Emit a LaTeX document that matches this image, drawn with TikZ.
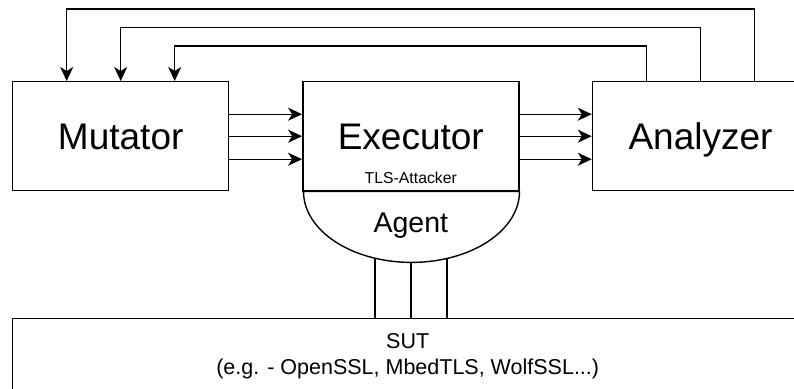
\documentclass[tikz,border=0pt]{standalone}
\usepackage{fontspec}
\setmainfont{Liberation Sans}
\usetikzlibrary{arrows.meta, positioning}

\begin{document}
\begin{tikzpicture}[x=1pt, y=-1pt, line width=1.4pt,
    box/.style={draw, rectangle, minimum width=216pt, minimum height=109pt, inner sep=0pt,
        text height=26.5pt, text depth=0pt, font=\fontsize{37}{44}\selectfont},
    arr/.style={-{Stealth[length=14pt, width=13pt, inset=4pt]}}]
    \useasboundingbox (0,0) rectangle (794,388);
    \clip (0,0) rectangle (794,388);
    \node[box, anchor=north west](mut) at (12,81){Mutator};
    \node[box, right=72.7pt of mut](exe){Executor};
    \node[box, right=72.3pt of exe](ana){Analyzer};
    \node[draw, anchor=north west, minimum width=790pt, minimum height=76pt, align=center,
        font=\fontsize{21.5}{26}\selectfont](sut) at (12,318){SUT\\(e.g. - OpenSSL, MbedTLS, WolfSSL...)};
    % agent to sut
    \draw ([xshift=-36pt]exe.south) -- ([xshift=-36pt]exe.south |- sut.north);
    \draw (exe.south) -- (exe.south |- sut.north);
    \draw ([xshift=36pt]exe.south) -- ([xshift=36pt]exe.south |- sut.north);
    \draw[fill=white] (exe.south west) -- (exe.south east)
        arc[start angle=0, end angle=-180, x radius=108pt, y radius=71pt] -- cycle;
    \node[anchor=base, font=\fontsize{28.5}{34}\selectfont](agt) at ([yshift=-41pt]exe.south){Agent};
    \node[anchor=base, font=\fontsize{15.8}{19}\selectfont](tls) at ([yshift=8pt]exe.south){TLS-Attacker};
    % mutator -> executor -> analyzer
    \draw[arr] ([yshift=22pt]mut.east) -- ([yshift=22pt]exe.west);
    \draw[arr] (mut.east) -- (exe.west);
    \draw[arr] ([yshift=-23pt]mut.east) -- ([yshift=-23pt]exe.west);
    \draw[arr] ([yshift=22pt]exe.east) -- ([yshift=22pt]ana.west);
    \draw[arr] (exe.east) -- (ana.west);
    \draw[arr] ([yshift=-23pt]exe.east) -- ([yshift=-23pt]ana.west);
    % feedback
    \draw[arr] ([xshift=-54pt]ana.north) -- ++(0,-35) -| ([xshift=54pt]mut.north);
    \draw[arr] (ana.north) -- ++(0,-53.5) -| (mut.north);
    \draw[arr] ([xshift=54pt]ana.north) -- ++(0,-72) -| ([xshift=-54pt]mut.north);
\end{tikzpicture}
\end{document}
